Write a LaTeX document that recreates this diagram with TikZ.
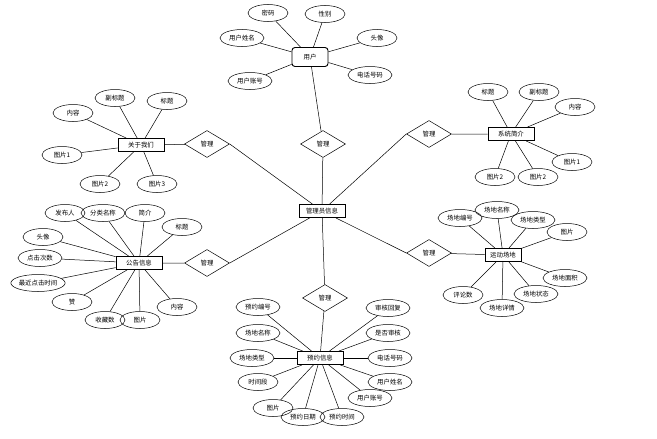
\documentclass[tikz,border=0pt]{standalone}
\usepackage{fontspec}
\newfontfamily\cjk{Noto Sans CJK SC}
\usetikzlibrary{shapes.geometric}
\tikzset{
  attr/.style={draw, ellipse, inner sep=0pt, minimum width=40pt, minimum height=17pt, font=\cjk\fontsize{6.4}{7}\selectfont},
  ent/.style={draw, line width=0.9pt, rectangle, inner sep=1pt, minimum width=46pt, minimum height=13pt, font=\cjk\fontsize{6.4}{7}\selectfont},
  rel/.style={draw, diamond, aspect=1.7, inner sep=0pt, minimum width=45pt, minimum height=27pt, font=\cjk\fontsize{6.4}{7}\selectfont},
}
\begin{document}
\begin{tikzpicture}[x=1pt, y=-1pt, line width=0.5pt]
      \useasboundingbox (0,0) rectangle (657,439);
      % centre
      \node[ent] (gly) at (322,211) {管理员信息};
      \node[rel] (r1) at (323,144) {管理};
      \node[rel] (r2) at (207,144) {管理};
      \node[rel] (r3) at (207,263) {管理};
      \node[rel] (r4) at (429,134) {管理};
      \node[rel] (r5) at (429,253) {管理};
      \node[rel] (r6) at (325,298) {管理};
      % 用户
      \node[ent, rounded corners=3pt, minimum width=36pt, minimum height=19pt] (yh) at (310,57) {用户};
      \node[attr] (yh1) at (268,13) {密码};
      \node[attr] (yh2) at (325,14) {性别};
      \node[attr, minimum width=44pt] (yh3) at (242,38) {用户姓名};
      \node[attr] (yh4) at (377,38) {头像};
      \node[attr, minimum width=44pt] (yh5) at (250,81) {用户账号};
      \node[attr, minimum width=44pt] (yh6) at (370,75) {电话号码};
      % 关于我们
      \node[ent] (gy) at (141,145) {关于我们};
      \node[attr] (gy1) at (73,113) {内容};
      \node[attr] (gy2) at (115,98) {副标题};
      \node[attr] (gy3) at (167,101) {标题};
      \node[attr] (gy4) at (62,155) {图片1};
      \node[attr] (gy5) at (100,184) {图片2};
      \node[attr] (gy6) at (157,184) {图片3};
      % 公告信息
      \node[ent] (gg) at (139,263) {公告信息};
      \node[attr] (gg1) at (65,213) {发布人};
      \node[attr, minimum width=44pt] (gg2) at (103,213) {分类名称};
      \node[attr] (gg3) at (145,213) {简介};
      \node[attr] (gg4) at (182,227) {标题};
      \node[attr] (gg5) at (43,237) {头像};
      \node[attr, minimum width=44pt] (gg6) at (40,258) {点击次数};
      \node[attr, minimum width=54pt] (gg7) at (38,283) {最近点击时间};
      \node[attr] (gg8) at (72,302) {赞};
      \node[attr] (gg9) at (105,320) {收藏数};
      \node[attr] (gg10) at (140,320) {图片};
      \node[attr] (gg11) at (177,307) {内容};
      % 系统简介
      \node[ent] (xt) at (511,134) {系统简介};
      \node[attr] (xt1) at (488,92) {标题};
      \node[attr] (xt2) at (539,92) {副标题};
      \node[attr] (xt3) at (575,107) {内容};
      \node[attr] (xt4) at (572,162) {图片1};
      \node[attr] (xt5) at (495,177) {图片2};
      \node[attr] (xt6) at (538,177) {图片2};
      % 运动场地
      \node[ent, minimum width=36pt] (cd) at (503,255) {运动场地};
      \node[attr, minimum width=44pt] (cd1) at (460,218) {场地编号};
      \node[attr, minimum width=44pt] (cd2) at (497,210) {场地名称};
      \node[attr, minimum width=44pt] (cd3) at (533,220) {场地类型};
      \node[attr] (cd4) at (567,232) {图片};
      \node[attr, minimum width=44pt] (cd5) at (565,278) {场地面积};
      \node[attr, minimum width=44pt] (cd6) at (536,294) {场地状态};
      \node[attr, minimum width=44pt] (cd7) at (502,308) {场地详情};
      \node[attr] (cd8) at (463,295) {评论数};
      % 预约信息
      \node[ent] (yy) at (320,358) {预约信息};
      \node[attr, minimum width=44pt] (yy1) at (258,307) {预约编号};
      \node[attr, minimum width=44pt] (yy2) at (258,333) {场地名称};
      \node[attr, minimum width=44pt] (yy3) at (252,358) {场地类型};
      \node[attr] (yy4) at (258,382) {时间段};
      \node[attr] (yy5) at (273,408) {图片};
      \node[attr, minimum width=44pt] (yy6) at (303,417) {预约日期};
      \node[attr, minimum width=44pt] (yy7) at (342,417) {预约时间};
      \node[attr, minimum width=44pt] (yy8) at (370,398) {用户账号};
      \node[attr, minimum width=44pt] (yy9) at (390,382) {用户姓名};
      \node[attr, minimum width=44pt] (yy10) at (390,358) {电话号码};
      \node[attr, minimum width=44pt] (yy11) at (388,333) {是否审核};
      \node[attr, minimum width=44pt] (yy12) at (388,308) {审核回复};
      % links
      \draw (gly) -- (r1) (r1) -- (yh);
      \draw (gly) -- (r2.east) (r2) -- (gy);
      \draw (gly) -- (r3.east) (r3) -- (gg);
      \draw (gly) -- (r4.west) (r4) -- (xt);
      \draw (gly) -- (r5.west) (r5) -- (cd);
      \draw (gly) -- (r6) (r6) -- (yy);
      \foreach \i in {1,...,6} \draw (yh) -- (yh\i);
      \foreach \i in {1,...,6} \draw (gy) -- (gy\i);
      \foreach \i in {1,...,11} \draw (gg) -- (gg\i);
      \foreach \i in {1,...,6} \draw (xt) -- (xt\i);
      \foreach \i in {1,...,8} \draw (cd) -- (cd\i);
      \foreach \i in {1,...,12} \draw (yy) -- (yy\i);
    \end{tikzpicture}
\end{document}
